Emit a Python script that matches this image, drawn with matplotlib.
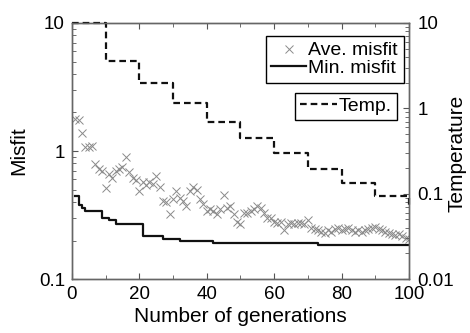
import numpy as np
import matplotlib
matplotlib.use('Agg')
import matplotlib.pyplot as plt

plt.rcParams['font.family'] = ['Liberation Sans', 'DejaVu Sans']

# average misfit per generation (1..100)
gens = np.arange(1, 101)
ave_misfit = [1.79, 1.76, 1.38, 1.08, 1.07, 1.10, 0.79, 0.72, 0.70, 0.51,
              0.66, 0.62, 0.70, 0.72, 0.75, 0.89, 0.68, 0.62, 0.59, 0.49,
              0.57, 0.54, 0.57, 0.55, 0.64, 0.52, 0.41, 0.40, 0.32, 0.42,
              0.49, 0.43, 0.41, 0.375, 0.49, 0.52, 0.50, 0.42, 0.385, 0.34,
              0.35, 0.34, 0.32, 0.35, 0.45, 0.36, 0.375, 0.32, 0.28, 0.27,
              0.33, 0.33, 0.34, 0.35, 0.375, 0.36, 0.33, 0.30, 0.30, 0.28,
              0.275, 0.28, 0.24, 0.27, 0.275, 0.27, 0.275, 0.275, 0.27, 0.29,
              0.25, 0.245, 0.24, 0.235, 0.23, 0.24, 0.235, 0.245, 0.25, 0.24,
              0.245, 0.25, 0.24, 0.235, 0.24, 0.235, 0.24, 0.245, 0.25, 0.255,
              0.245, 0.24, 0.235, 0.23, 0.225, 0.22, 0.225, 0.215, 0.21, 0.205]

# minimum misfit (step changes)
min_gen = [1, 2, 3, 4, 9, 11, 13, 21, 27, 32, 42, 73, 100]
min_val = [0.448, 0.38, 0.362, 0.341, 0.299, 0.29, 0.269, 0.217, 0.207,
           0.199, 0.190, 0.185, 0.185]

# temperature schedule
temp_gen = [0, 10, 20, 30, 40, 50, 60, 70, 80, 90, 100]
temp_val = [10, 3.6, 1.96, 1.14, 0.70, 0.45, 0.30, 0.197, 0.134, 0.093, 0.069]

fig = plt.figure(figsize=(4.7, 3.33), dpi=100)
ax = fig.add_axes([0.153, 0.162, 0.717, 0.769])
ax2 = ax.twinx()

sc, = ax.plot(gens, ave_misfit, 'x', color='#8a8a8a', markersize=6,
              markeredgewidth=0.7, label='Ave. misfit')
mn, = ax.plot(min_gen, min_val, '-', color='#111111', lw=1.6,
              drawstyle='steps-post', label='Min. misfit')
tp, = ax2.plot(temp_gen, temp_val, '--', color='#111111', lw=1.6,
               drawstyle='steps-post', dashes=(3, 1.8), clip_on=False,
               label='Temp.')

ax.set_yscale('log')
ax.set_ylim(0.1, 10)
ax.set_xlim(0, 100)
ax.set_xticks([0, 20, 40, 60, 80, 100])
ax.set_xticks(np.arange(10, 100, 20), minor=True)
ax.set_yticks([0.1, 1, 10])
ax.set_yticklabels(['0.1', '1', '10'])
ax.set_xlabel('Number of generations', fontsize=15, labelpad=3)
ax.set_ylabel('Misfit', fontsize=15)
ax.yaxis.set_label_coords(-0.13, 0.5)
ax.tick_params(which='both', direction='in', top=True, right=False,
               labelsize=13.5, color='#555555', pad=5)
ax.tick_params(which='major', length=4)
ax.tick_params(which='minor', length=3)

ax2.set_yscale('log')
ax2.set_ylim(0.01, 10)
ax2.set_yticks([0.01, 0.1, 1, 10])
ax2.set_yticklabels(['0.01', '0.1', '1', '10'])
ax2.set_ylabel('Temperature', fontsize=15)
ax2.yaxis.set_label_coords(1.115, 0.49)
ax2.tick_params(which='both', direction='in', labelsize=13.5,
                color='#555555', pad=6)
ax2.tick_params(which='major', length=4)
ax2.tick_params(which='minor', length=3)

for a in (ax, ax2):
    for s in a.spines.values():
        s.set_color('#666666')
        s.set_linewidth(1.0)

leg1 = ax2.legend(handles=[sc, mn], loc='upper right',
                  bbox_to_anchor=(0.985, 0.949), fontsize=14,
                  fancybox=False, edgecolor='black', framealpha=1,
                  labelspacing=-0.02, handlelength=1.8, handletextpad=0.1,
                  borderpad=0.3, borderaxespad=0)
leg1.get_frame().set_linewidth(1.0)
ax2.add_artist(leg1)
leg2 = ax2.legend(handles=[tp], loc='upper right',
                  bbox_to_anchor=(0.964, 0.728), fontsize=14,
                  fancybox=False, edgecolor='black', framealpha=1,
                  handlelength=1.9, handletextpad=0.1,
                  borderpad=0.25, borderaxespad=0)
leg2.get_frame().set_linewidth(1.0)

fig.savefig('out.png', dpi=100)
